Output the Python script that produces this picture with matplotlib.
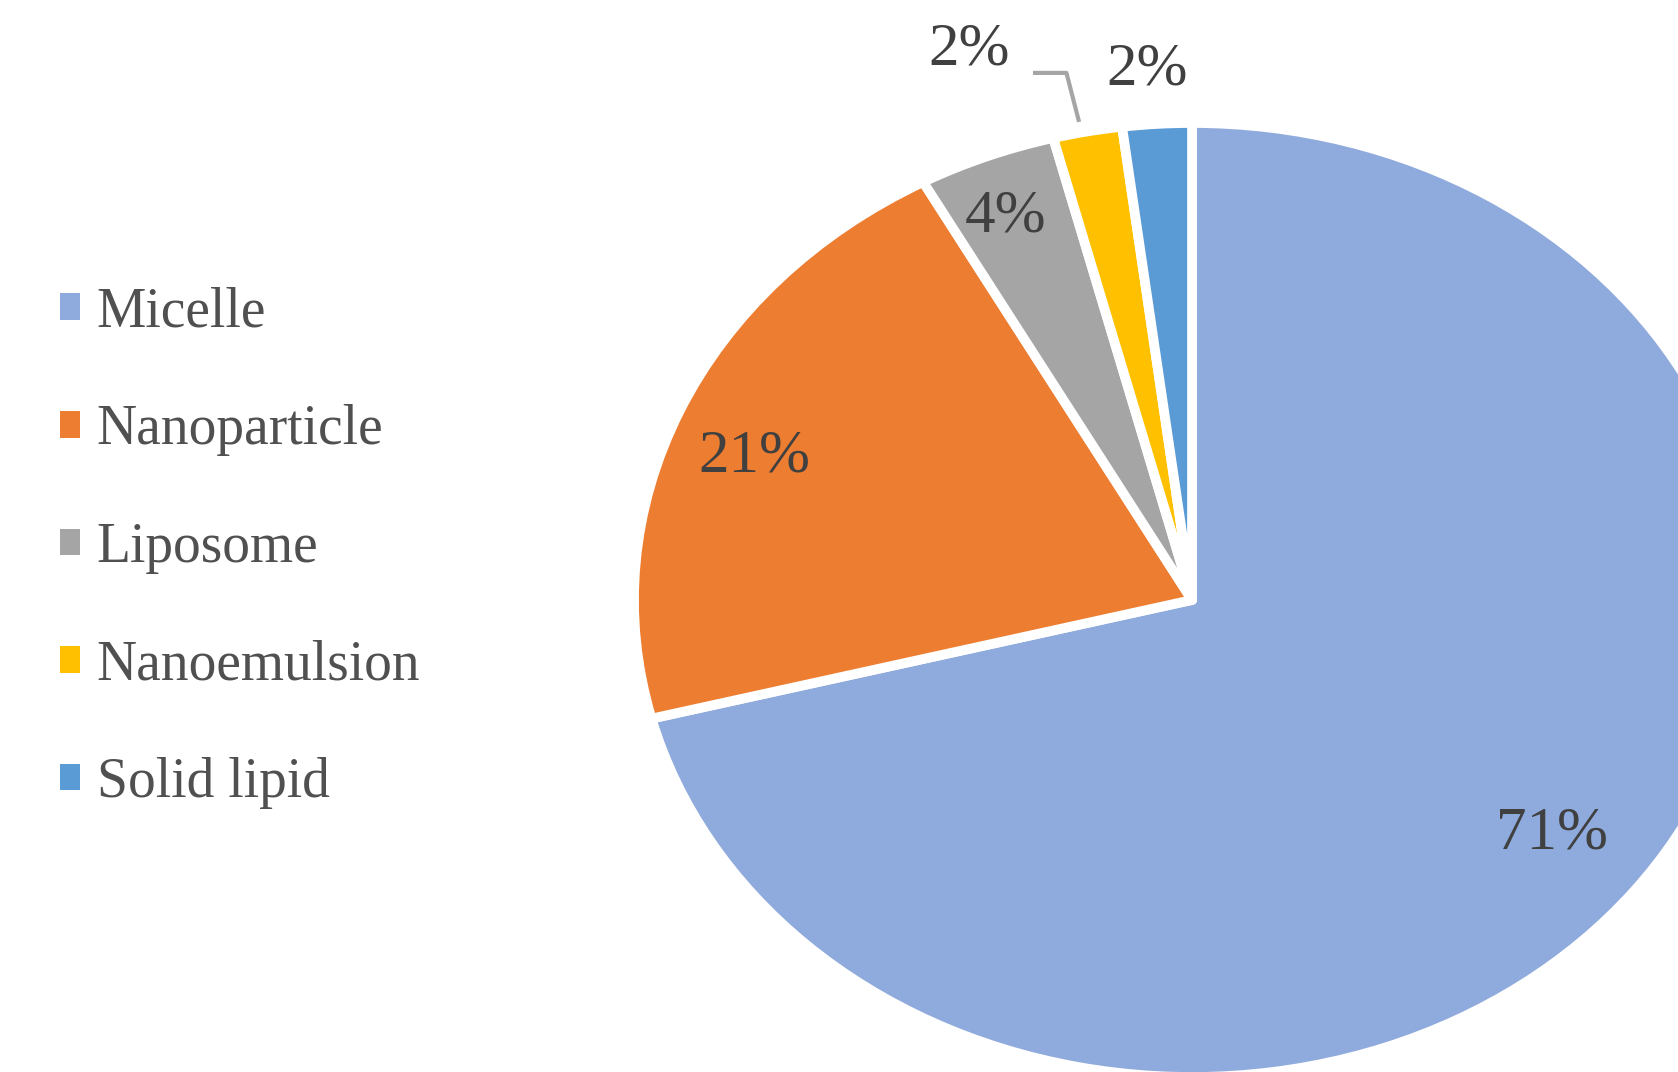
import numpy as np
import matplotlib.pyplot as plt

categories = ["Micelle", "Nanoparticle", "Liposome", "Nanoemulsion", "Solid lipid"]
shares = [71, 21, 4, 2, 2]
colors = ["#8faadc", "#ed7d31", "#a5a5a5", "#ffc000", "#5b9bd5"]

plt.rcParams['font.family'] = ['Liberation Serif', 'DejaVu Serif']

fig = plt.figure(figsize=(16.78, 10.72), dpi=100)
# pie is stretched horizontally and runs off the right edge, like the source image
ax = fig.add_axes([634 / 1678, -5 / 1072, 1116 / 1678, 954 / 1072])

wedges, _ = ax.pie(shares, colors=colors, startangle=90, counterclock=False,
                   radius=1.0, wedgeprops=dict(edgecolor='white', linewidth=7,
                                               joinstyle='round'))
ax.set_aspect('auto')
ax.set_xlim(-1, 1)
ax.set_ylim(-1, 1)
ax.axis('off')

def mid_angle(w, shift=0.0):
    return np.deg2rad((w.theta1 + w.theta2) / 2 + shift)

# labels inside the three big slices: (distance, angle shift)
inner = {0: (0.81, 0.5), 1: (0.84, 2.5), 2: (0.87, 1.0)}
for i, (dist, shift) in inner.items():
    a = mid_angle(wedges[i], shift)
    ax.text(dist * np.cos(a), dist * np.sin(a), f"{shares[i]}%", ha='center', va='center',
            fontsize=44, color='#404040', clip_on=False)

# the two small slices get outside labels
a = mid_angle(wedges[3])
tip = (np.cos(a), np.sin(a))
ax.text(-0.40, 1.153, f"{shares[3]}%", ha='center', va='center',
        fontsize=44, color='#404040', clip_on=False)
ax.plot([-0.285, -0.225, tip[0] - 0.015], [1.105, 1.105, tip[1] + 0.02], color='#a5a5a5',
        lw=3, clip_on=False, solid_capstyle='butt')

ax.text(-0.08, 1.112, f"{shares[4]}%", ha='center', va='center',
        fontsize=44, color='#404040', clip_on=False)

leg = fig.legend(wedges, categories, loc='center left', bbox_to_anchor=(60 / 1678, 0.489),
                 frameon=False, fontsize=40, handlelength=0.36, handleheight=0.36,
                 handletextpad=0.3, labelspacing=1.18, borderpad=0, borderaxespad=0,
                 labelcolor='#505050')
for h in leg.legend_handles:
    h.set_edgecolor('none')

fig.savefig("out.png", dpi=100)
